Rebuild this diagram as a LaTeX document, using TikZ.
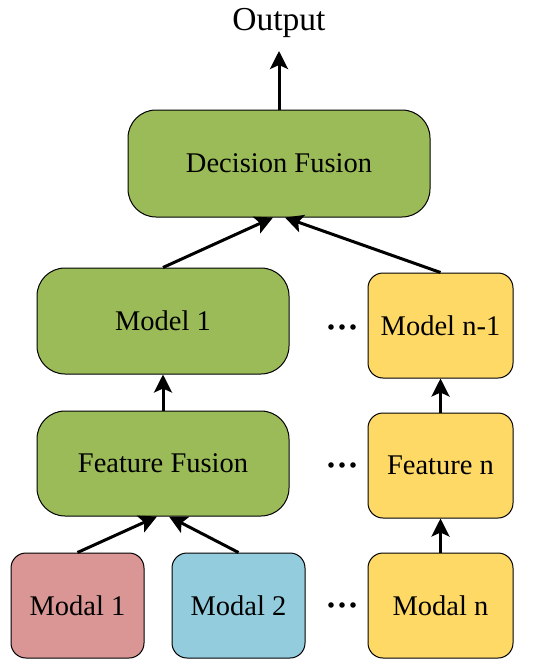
\documentclass[tikz,border=0pt]{standalone}
\usepackage{fontspec}
\setmainfont{Liberation Serif}
\usetikzlibrary{arrows.meta,calc}
\definecolor{cgreen}{HTML}{9BBB59}
\definecolor{cred}{HTML}{D99694}
\definecolor{cblue}{HTML}{93CDDD}
\definecolor{cyellow}{HTML}{FFD966}
\begin{document}
\begin{tikzpicture}[x=1pt,y=-1pt,
  box/.style={draw=black, line width=1pt, rounded corners=#1, inner sep=0pt,
    font=\fontsize{28.5}{32}\selectfont},
  arr/.style={line width=3pt, -{Stealth[length=18pt,width=18pt,inset=4pt]}},
  dotfill/.style={fill=black}]
\useasboundingbox (0,0) rectangle (550,669);
\node[font=\fontsize{33.5}{38}\selectfont] (out) at (279,23) {Output};
\coordinate (outtip) at (279,51);
\node[box=28pt, fill=cgreen, minimum width=302pt, minimum height=107pt] (df) at (279,163.5) {Decision Fusion};
\node[box=28pt, fill=cgreen, minimum width=252pt, minimum height=106pt] (m1) at (163,321) {Model 1};
\node[box=15pt, fill=cyellow, minimum width=145pt, minimum height=105pt] (mn) at (440.5,325.5) {Model n-1};
\node[box=28pt, fill=cgreen, minimum width=252pt, minimum height=105pt] (ff) at (163,463.5) {Feature Fusion};
\node[box=15pt, fill=cyellow, minimum width=145pt, minimum height=105pt] (fn) at (440.5,465.5) {Feature n};
\node[box=15pt, fill=cred, minimum width=133pt, minimum height=105pt] (md1) at (77.5,605.5) {Modal 1};
\node[box=15pt, fill=cblue, minimum width=133pt, minimum height=105pt] (md2) at (238.5,605.5) {Modal 2};
\node[box=15pt, fill=cyellow, minimum width=145pt, minimum height=105pt] (mdn) at (440.5,605.5) {Modal n};
\draw[arr] (df.north) -- (outtip);
\draw[arr] (m1.north) -- ($(df.south)+(-6,0)$);
\draw[arr] (mn.north) -- ($(df.south)+(6,0)$);
\draw[arr] (ff.north) -- (m1.south);
\draw[arr] (fn.north) -- (mn.south);
\draw[arr] (mdn.north) -- (fn.south);
\draw[arr] (md1.north) -- ($(ff.south)+(-6,0)$);
\draw[arr] (md2.north) -- ($(ff.south)+(6,0)$);
\foreach \y in {327,465,605} {
  \foreach \x in {331,342,353} { \fill[dotfill] (\x,\y) circle (2.8pt); }
}
\end{tikzpicture}
\end{document}
